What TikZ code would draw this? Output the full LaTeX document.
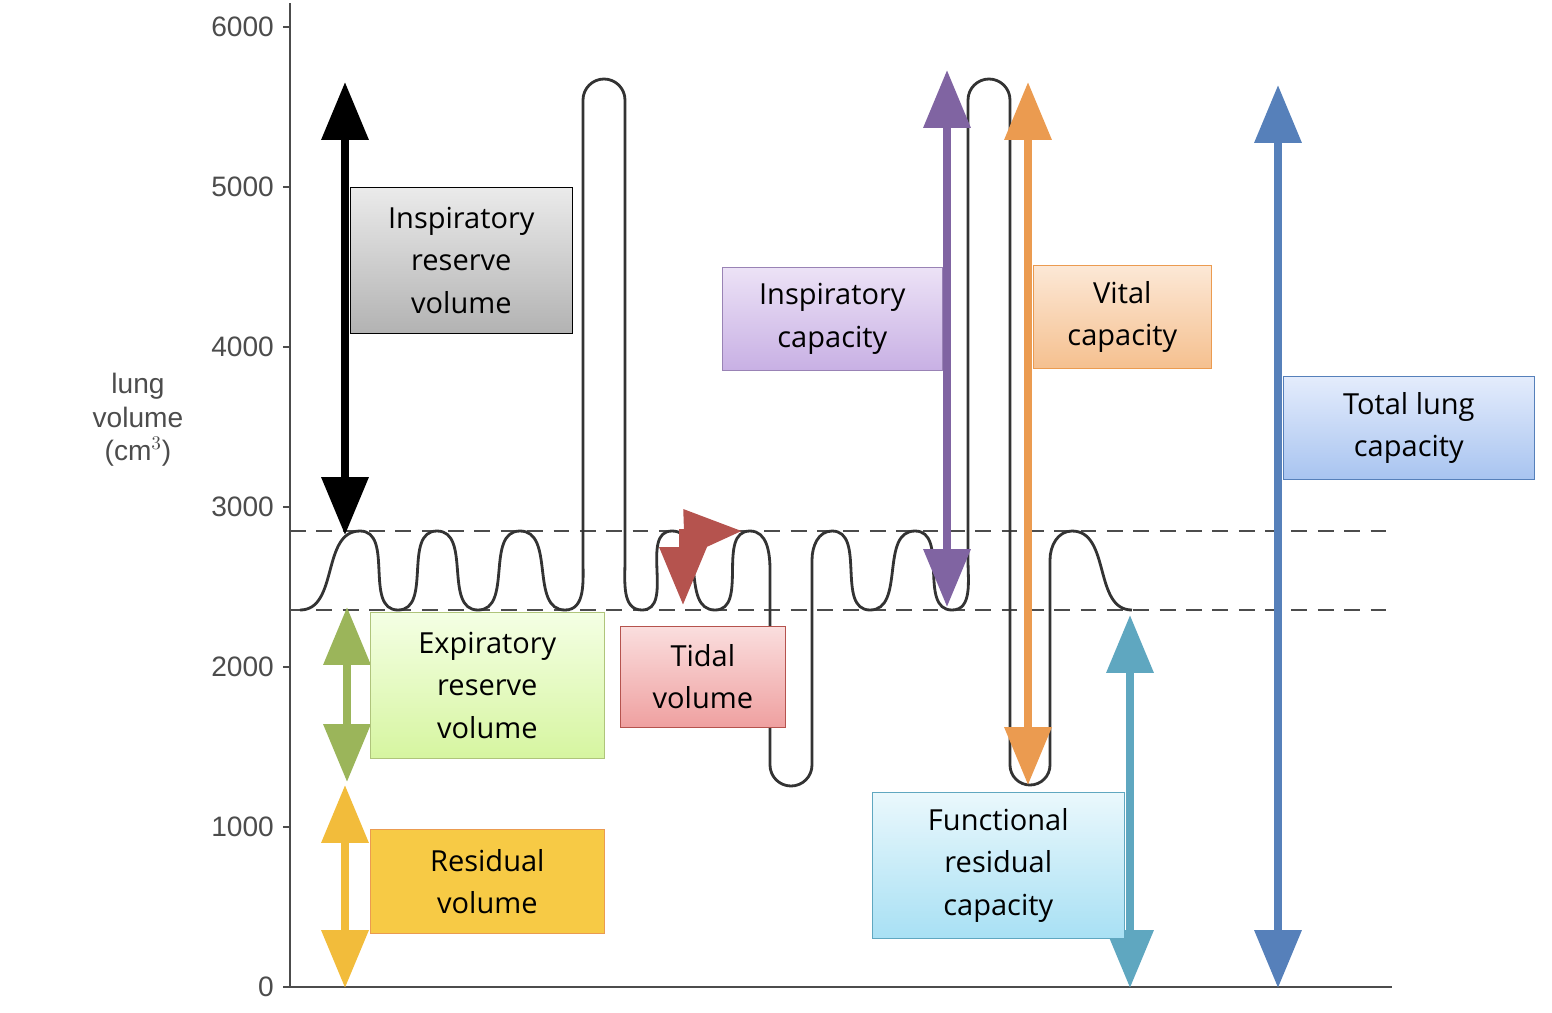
\documentclass[tikz,border=0pt]{standalone}
\usepackage{fontspec}
\setmainfont{Open Sans}
\newfontfamily\axisfont{Liberation Sans}
\usetikzlibrary{arrows.meta}

\definecolor{irvline}{HTML}{000000}
\definecolor{ervcol}{HTML}{9BB55A}
\definecolor{rvcol}{HTML}{F2BC3B}
\definecolor{tvcol}{HTML}{B5534E}
\definecolor{iccol}{HTML}{8064A2}
\definecolor{vccol}{HTML}{EB9B50}
\definecolor{frccol}{HTML}{5FA7C0}
\definecolor{tlccol}{HTML}{5680BA}

\tikzset{
  vol/.style={line width=4.5pt, {Triangle[width=26pt,length=33pt]}-{Triangle[width=26pt,length=33pt]}},
  lbl/.style={draw, align=center, font=\fontsize{16.5}{24}\selectfont, inner sep=0pt, anchor=north west},
  tick/.style={font=\axisfont\fontsize{16}{16}\selectfont, text=black!70, anchor=east},
}

\begin{document}
\begin{tikzpicture}[x=0.02cm, y=-0.02cm]
\useasboundingbox (0,0) rectangle (1552,1012);

% axes
\draw[black!70, line width=1.2pt] (290,3) -- (290,987) -- (1392,987);
\foreach \v/\y in {6000/27, 5000/187, 4000/347, 3000/507, 2000/667, 1000/827, 0/987}{
  \draw[black!70, line width=1pt] (283,\y) -- (290,\y);
  \node[tick] (t\v) at (280,\y) {\v};
}
\node[font=\axisfont\fontsize{16}{19}\selectfont, text=black!70, align=center] (ylab) at (138,420) {lung\\volume\\(cm$^3$)};

% reference levels
\draw[black!70, dash pattern=on 9pt off 6pt, line width=1pt] (290,531) -- (1392,531);
\draw[black!70, dash pattern=on 9pt off 6pt, line width=1pt] (290,610) -- (1392,610);

% breathing trace
\draw[black!80, line width=1.6pt]
  (300,610) to[out=0,in=180] (360,531) to[out=0,in=180] (398,610)
  to[out=0,in=180] (437,531) to[out=0,in=180] (478,610)
  to[out=0,in=180] (520,531) to[out=0,in=180] (565,610)
  to[out=0,in=-90] (583,560) -- (583,100) arc[start angle=180,end angle=360,radius=21] -- (625,560)
  to[out=-90,in=180] (642,610) to[out=0,in=180] (672,531) to[out=0,in=180] (715,610)
  to[out=0,in=180] (750,531) to[out=0,in=90] (770,570) -- (770,765) arc[start angle=180,end angle=0,radius=21] -- (812,560)
  to[out=90,in=180] (832,531) to[out=0,in=180] (870,610)
  to[out=0,in=180] (915,531) to[out=0,in=180] (952,610)
  to[out=0,in=-90] (968,560) -- (968,100) arc[start angle=180,end angle=360,radius=21] -- (1010,765)
  arc[start angle=180,end angle=0,radius=20] -- (1050,560)
  to[out=90,in=180] (1072,531) to[out=0,in=180] (1132,610);

% arrows
\coordinate (irvT) at (345,82);  \coordinate (irvB) at (345,535);
\coordinate (ervT) at (347,607); \coordinate (ervB) at (347,782);
\coordinate (rvT) at (345,785);  \coordinate (rvB) at (345,988);
\coordinate (icT) at (947,70);   \coordinate (icB) at (947,607);
\coordinate (vcT) at (1028,82);  \coordinate (vcB) at (1028,785);
\coordinate (frcT) at (1130,615); \coordinate (frcB) at (1130,988);
\coordinate (tlcT) at (1278,85); \coordinate (tlcB) at (1278,988);
\draw[vol, irvline] (irvT) -- (irvB);
\draw[vol, ervcol] (ervT) -- (ervB);
\draw[vol, rvcol] (rvT) -- (rvB);
\draw[vol, iccol] (icT) -- (icB);
\draw[vol, vccol] (vcT) -- (vcB);
\draw[vol, frccol] (frcT) -- (frcB);
\draw[vol, tlccol] (tlcT) -- (tlcB);
\coordinate (tvA) at (683,605); \coordinate (tvM) at (683,533); \coordinate (tvB) at (742,531);
\draw[vol, tvcol] (tvA) -- (tvM) -- (tvB);

% labels
\node[lbl, draw=black, top color=black!8, bottom color=black!30, minimum width=4.44cm, minimum height=2.92cm] (irv) at (350,187) {Inspiratory\\reserve\\volume};
\node[lbl, draw=ervcol!80, top color={rgb,255:red,244;green,255;blue,228}, bottom color={rgb,255:red,214;green,245;blue,160}, minimum width=4.68cm, minimum height=2.92cm] (erv) at (370,612) {Expiratory\\reserve\\volume};
\node[lbl, draw=vccol, fill={rgb,255:red,247;green,202;blue,69}, minimum width=4.68cm, minimum height=2.08cm] (rv) at (370,829) {Residual\\volume};
\node[lbl, draw=tvcol, top color={rgb,255:red,250;green,222;blue,222}, bottom color={rgb,255:red,239;green,160;blue,160}, minimum width=3.3cm, minimum height=2.02cm] (tv) at (620,626) {Tidal\\volume};
\node[lbl, draw=iccol!80, top color={rgb,255:red,236;green,226;blue,246}, bottom color={rgb,255:red,200;green,176;blue,228}, minimum width=4.4cm, minimum height=2.06cm] (ic) at (722,267) {Inspiratory\\capacity};
\node[lbl, draw=vccol, top color={rgb,255:red,252;green,232;blue,214}, bottom color={rgb,255:red,245;green,192;blue,143}, minimum width=3.56cm, minimum height=2.06cm] (vc) at (1033,265) {Vital\\capacity};
\node[lbl, draw=tlccol, top color={rgb,255:red,228;green,236;blue,252}, bottom color={rgb,255:red,168;green,196;blue,240}, minimum width=5.02cm, minimum height=2.06cm] (tlc) at (1283,376) {Total lung\\capacity};
\node[lbl, draw=frccol, top color={rgb,255:red,234;green,248;blue,252}, bottom color={rgb,255:red,168;green,224;blue,244}, minimum width=5.04cm, minimum height=2.92cm] (frc) at (872,792) {Functional\\residual\\capacity};
\end{tikzpicture}
\end{document}
